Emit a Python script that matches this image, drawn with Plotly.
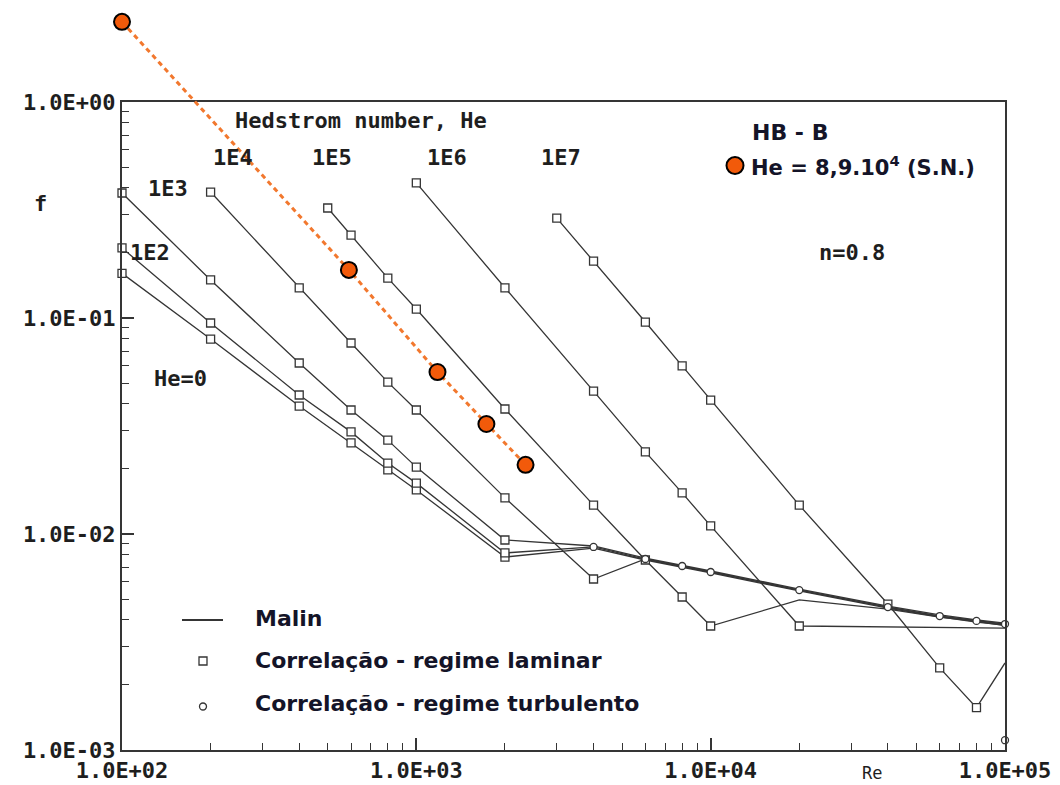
import plotly.graph_objects as go

# ---------------- data: Fanning friction factor f vs Reynolds number Re ----------------
# Malin curves, laminar part (square markers) and turbulent part, per Hedstrom number

# He = 0
re_lam_he0 = [100, 200, 400, 600, 800, 1000, 2000]
f_lam_he0 = [0.161, 0.0799, 0.0391, 0.0264, 0.0198, 0.0160, 0.00782]
re_turb_he0 = [4000, 6000, 8000, 10000, 20000, 40000, 60000, 80000, 100000]
f_turb_he0 = [0.00861, 0.00758, 0.00704, 0.00660, 0.00545, 0.00454, 0.00413, 0.00391, 0.00379]

# He = 1E2
re_lam_he1e2 = [100, 200, 400, 600, 800, 1000, 2000]
f_lam_he1e2 = [0.211, 0.0948, 0.0440, 0.0297, 0.0213, 0.0172, 0.00817]
re_turb_he1e2 = [4000, 6000, 8000, 10000, 20000, 40000, 60000, 80000, 100000]
f_turb_he1e2 = [0.00871, 0.00766, 0.00711, 0.00667, 0.00550, 0.00459, 0.00417, 0.00396, 0.00383]

# He = 1E3
re_lam_he1e3 = [100, 200, 400, 600, 800, 1000, 2000]
f_lam_he1e3 = [0.379, 0.150, 0.0619, 0.0375, 0.0272, 0.0204, 0.00938]
re_turb_he1e3 = [4000, 6000, 8000, 10000, 20000, 40000, 60000, 80000, 100000]
f_turb_he1e3 = [0.00880, 0.00774, 0.00719, 0.00674, 0.00556, 0.00464, 0.00422, 0.00400, 0.00387]

# He = 1E4
re_lam_he1e4 = [200, 400, 600, 800, 1000, 2000, 4000]
f_lam_he1e4 = [0.383, 0.138, 0.0766, 0.0505, 0.0375, 0.0147, 0.00619]
re_turb_he1e4 = [6000, 8000, 10000, 20000, 40000, 60000, 80000, 100000]
f_turb_he1e4 = [0.00766, 0.00711, 0.00667, 0.00550, 0.00459, 0.00417, 0.00396, 0.00383]

# He = 1E5
re_lam_he1e5 = [500, 600, 800, 1000, 2000, 4000, 6000, 8000, 10000]
f_lam_he1e5 = [0.323, 0.242, 0.153, 0.110, 0.0379, 0.0136, 0.00758, 0.00511, 0.00375]
re_turb_he1e5 = [20000, 40000, 60000, 80000, 100000]
f_turb_he1e5 = [0.00495, 0.00449, 0.00412, 0.00394, 0.00377]

# He = 1E6
re_lam_he1e6 = [1000, 2000, 4000, 6000, 8000, 10000, 20000]
f_lam_he1e6 = [0.422, 0.138, 0.0459, 0.0240, 0.0155, 0.0109, 0.00375]
re_turb_he1e6 = [40000, 60000, 80000, 100000]
f_turb_he1e6 = [0.00372, 0.00370, 0.00369, 0.00367]

# He = 1E7
re_lam_he1e7 = [3000, 4000, 6000, 8000, 10000, 20000, 40000, 60000, 80000]
f_lam_he1e7 = [0.290, 0.1835, 0.0958, 0.0600, 0.0417, 0.0136, 0.00474, 0.00240, 0.00157]
re_turb_he1e7 = [100000]
f_turb_he1e7 = [0.00253]

# Turbulent-regime correlation (circle markers)
re_turb_corr = [4000, 6000, 8000, 10000, 20000, 40000, 60000, 80000, 100000, 100000]
f_turb_corr = [0.00871, 0.00766, 0.00711, 0.00667, 0.00550, 0.00459, 0.00417, 0.00396, 0.00383, 0.00111]

# Experimental series HB - B, He = 8,9.10^4 (S.N.)
re_hb = [100, 590, 1180, 1730, 2350]
f_hb = [2.35, 0.167, 0.0562, 0.0323, 0.0209]

# Axis ticks
x_major = [1e2, 1e3, 1e4, 1e5]
x_major_text = ["1.0E+02", "1.0E+03", "1.0E+04", "1.0E+05"]
y_major = [1e-3, 1e-2, 1e-1, 1e0]
y_major_text = ["1.0E-03", "1.0E-02", "1.0E-01", "1.0E+00"]

# Curve labels: (text, x px, y px)
curve_labels = [
    ("Hedstrom number, He", 361, 120),
    ("1E4", 233, 158), ("1E5", 332, 158), ("1E6", 447, 158), ("1E7", 561, 158),
    ("1E3", 168, 188), ("1E2", 150, 253), ("He=0", 180, 378),
    ("n=0.8", 852, 252), ("f", 40, 203),
]

# ---------------- layout geometry ----------------
W, H = 1060, 785
L, R, T, B = 122, 55, 10, 35
PW, PH = W - L - R, H - T - B
FRAME_TOP = 102  # pixel row of f = 1


def px(x):
    return (x - L) / PW


def py(y):
    return (H - B - y) / PH


INK = "#1e1e1e"
LINE = "#353535"
MONO = "DejaVu Sans Mono"
SANS = "DejaVu Sans"
ORANGE = "#F25A0A"

minor_x = [m * 10 ** d for d in range(2, 5) for m in range(2, 10)]
minor_y = [m * 10.0 ** d for d in range(-3, 0) for m in range(2, 10)]

fig = go.Figure()

curves = [
    (re_lam_he0, f_lam_he0, re_turb_he0, f_turb_he0),
    (re_lam_he1e2, f_lam_he1e2, re_turb_he1e2, f_turb_he1e2),
    (re_lam_he1e3, f_lam_he1e3, re_turb_he1e3, f_turb_he1e3),
    (re_lam_he1e4, f_lam_he1e4, re_turb_he1e4, f_turb_he1e4),
    (re_lam_he1e5, f_lam_he1e5, re_turb_he1e5, f_turb_he1e5),
    (re_lam_he1e6, f_lam_he1e6, re_turb_he1e6, f_turb_he1e6),
    (re_lam_he1e7, f_lam_he1e7, re_turb_he1e7, f_turb_he1e7),
]

# Malin lines
for rl, fl, rt, ft in curves:
    fig.add_trace(go.Scatter(
        x=rl + rt, y=fl + ft, mode="lines",
        line=dict(color=LINE, width=1.3), showlegend=False, hoverinfo="skip",
    ))

# Laminar correlation squares
for rl, fl, rt, ft in curves:
    fig.add_trace(go.Scatter(
        x=rl, y=fl, mode="markers", cliponaxis=False,
        marker=dict(symbol="square", size=8, color="white", line=dict(color=LINE, width=1.3)),
        showlegend=False, hoverinfo="skip",
    ))

# Turbulent correlation circles
fig.add_trace(go.Scatter(
    x=re_turb_corr, y=f_turb_corr, mode="markers", cliponaxis=False,
    marker=dict(symbol="circle", size=7, color="white", line=dict(color=LINE, width=1.3)),
    showlegend=False, hoverinfo="skip",
))

# HB - B series on an overlapping subplot that extends above f = 1
fig.add_trace(go.Scatter(
    x=re_hb, y=f_hb, mode="lines+markers", xaxis="x2", yaxis="y2", cliponaxis=False,
    line=dict(color="#F2782E", width=3, dash="5px,4px"),
    marker=dict(symbol="circle", size=16, color=ORANGE, line=dict(color="black", width=2)),
    showlegend=False, hoverinfo="skip",
))

y_dom_top = py(FRAME_TOP)
y2_top = -3 + PH / 216.0

tickfont = dict(family=MONO, size=22, color=INK, weight="bold")
common = dict(showgrid=False, zeroline=False, automargin=False)
fig.update_layout(
    width=W, height=H,
    margin=dict(l=L, r=R, t=T, b=B, autoexpand=False),
    paper_bgcolor="white", plot_bgcolor="rgba(0,0,0,0)",
    showlegend=False,
    xaxis=dict(
        type="log", range=[2, 5], domain=[0, 1], anchor="y",
        showline=True, linecolor=LINE, linewidth=2, mirror=True,
        ticks="inside", ticklen=12, tickwidth=1.5, tickcolor=LINE,
        tickvals=x_major, ticktext=x_major_text, tickfont=tickfont,
        minor=dict(tickvals=minor_x, ticks="inside", ticklen=7, tickwidth=1.2, tickcolor=LINE),
        **common,
    ),
    yaxis=dict(
        type="log", range=[-3, 0], domain=[0, y_dom_top], anchor="x",
        showline=True, linecolor=LINE, linewidth=2, mirror=True,
        ticks="inside", ticklen=12, tickwidth=1.5, tickcolor=LINE,
        tickvals=y_major, ticktext=y_major_text, tickfont=tickfont,
        minor=dict(tickvals=minor_y, ticks="inside", ticklen=7, tickwidth=1.2, tickcolor=LINE),
        **common,
    ),
    xaxis3=dict(
        type="log", range=[2, 5], overlaying="x", side="top", anchor="y",
        tickvals=x_major, ticks="inside", ticklen=12, tickwidth=1.5, tickcolor=LINE,
        showticklabels=False, showline=False, **common,
    ),
    yaxis3=dict(
        type="log", range=[-3, 0], overlaying="y", side="right", anchor="x",
        tickvals=y_major, ticks="inside", ticklen=12, tickwidth=1.5, tickcolor=LINE,
        showticklabels=False, showline=False, **common,
    ),
    xaxis2=dict(type="log", range=[2, 5], domain=[0, 1], anchor="y2", visible=False, **common),
    yaxis2=dict(type="log", range=[-3, y2_top], domain=[0, 1], anchor="x2", visible=False, **common),
)

annotations = []
for text, x, y in curve_labels:
    annotations.append(dict(
        text=text, x=px(x), y=py(y), xref="paper", yref="paper", showarrow=False,
        xanchor="center", yanchor="middle",
        font=dict(family=MONO, size=22, color=INK, weight="bold"),
    ))
# Re axis label, small, just under the axis
annotations.append(dict(
    text="Re", x=px(872), y=py(773), xref="paper", yref="paper", showarrow=False,
    xanchor="center", yanchor="middle", font=dict(family=MONO, size=17, color=INK),
))

legend_font = dict(family=SANS, size=22, color="#141428", weight="bold")
for text, y in [("Malin", 618), ("Correlação - regime laminar", 660), ("Correlação - regime turbulento", 703)]:
    annotations.append(dict(
        text=text, x=px(253), y=py(y), xref="paper", yref="paper", showarrow=False,
        xanchor="left", yanchor="middle", font=legend_font,
    ))
annotations.append(dict(
    text="HB - B", x=px(750), y=py(133), xref="paper", yref="paper", showarrow=False,
    xanchor="left", yanchor="middle", font=legend_font,
))
annotations.append(dict(
    text="He = 8,9.10<sup>4</sup> (S.N.)", x=px(749), y=py(166), xref="paper", yref="paper",
    showarrow=False, xanchor="left", yanchor="middle", font=dict(legend_font, size=21),
))
fig.update_layout(annotations=annotations)

# Legend symbols
shapes = [
    dict(type="line", xref="paper", yref="paper", x0=px(182), x1=px(223), y0=py(620), y1=py(620),
         line=dict(color=LINE, width=2)),
    dict(type="rect", xref="paper", yref="paper", x0=px(199), x1=px(207), y0=py(665), y1=py(657),
         line=dict(color=LINE, width=1.3), fillcolor="white"),
    dict(type="circle", xref="paper", yref="paper", x0=px(199.5), x1=px(206.5), y0=py(710), y1=py(703),
         line=dict(color=LINE, width=1.3), fillcolor="white"),
    dict(type="circle", xref="paper", yref="paper", x0=px(726.5), x1=px(743.5), y0=py(174), y1=py(157),
         line=dict(color="black", width=2), fillcolor=ORANGE),
]
fig.update_layout(shapes=shapes)

fig.write_html("out.html")
